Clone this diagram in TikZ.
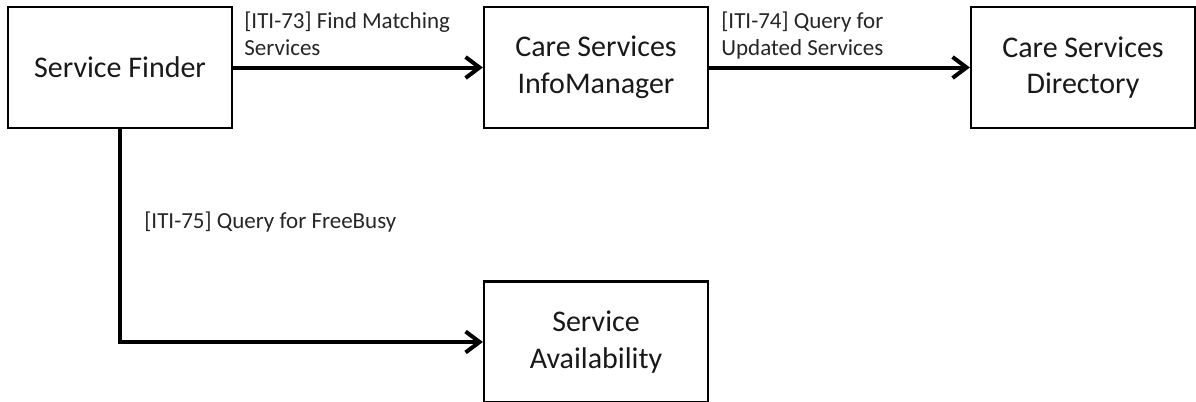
\documentclass[tikz,border=0pt]{standalone}
\usepackage{fontspec}
\setmainfont{Carlito}
\usetikzlibrary{arrows.meta}

\begin{document}
\begin{tikzpicture}[x=0.5pt,y=-0.5pt,
    actor/.style={draw,line width=1.1pt,minimum width=112pt,minimum height=60.5pt,
      align=center,inner sep=0pt,text=black!90,font=\fontsize{15}{18.3}\selectfont},
    flow/.style={line width=2pt,-{Straight Barb[length=7pt,width=10.5pt]}},
    txn/.style={inner sep=0pt,align=left,text=black!85,font=\fontsize{11.5}{13.5}\selectfont}]

  % Fix the page size
  \useasboundingbox (0,0) rectangle (1196,402);

  % Define the box centres
  \coordinate (F) at (120,67.5);
  \coordinate (M) at (596,67.5);
  \coordinate (D) at (1083,67.5);
  \coordinate (A) at (596,342);

  % Draw the actors
  \node[actor] (finder) at (F) {Service Finder};
  \node[actor] (infomgr) at (M) {Care Services\\InfoManager};
  \node[actor] (directory) at (D) {Care Services\\Directory};
  \node[actor] (avail) at (A) {Service\\Availability};

  % Draw the transactions
  \draw[flow] (finder) -- (infomgr);
  \draw[flow] (infomgr) -- (directory);
  \draw[flow] (finder.south) |- (avail.west);

  % Add labels for the transactions
  \node[txn,anchor=north west] (iti73) at (244,11) {[ITI-73] Find Matching\\Services};
  \node[txn,anchor=north west] (iti74) at (721,11) {[ITI-74] Query for\\Updated Services};
  \node[txn,anchor=base west] (iti75) at (144,228) {[ITI-75] Query for FreeBusy};

\end{tikzpicture}
\end{document}
